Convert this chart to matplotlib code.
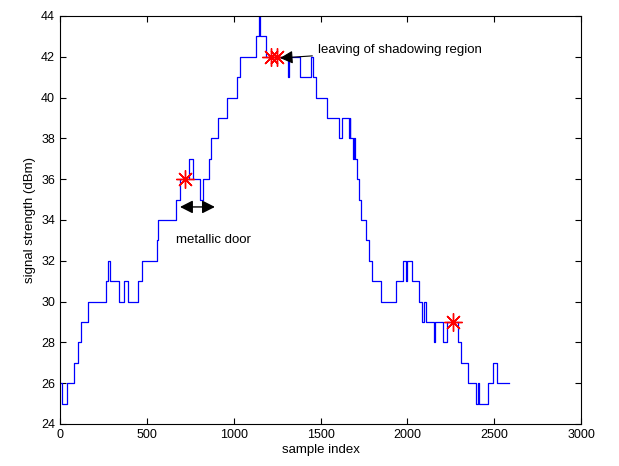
import numpy as np
import matplotlib
matplotlib.use('Agg')
import matplotlib.pyplot as plt

plt.rcParams['font.family'] = ['Liberation Sans', 'DejaVu Sans']

# step breakpoints (sample index) and signal level (dBm) that starts there
step_x = [0, 10, 38, 81, 106, 121, 163, 263, 274, 288, 342, 368, 393, 451, 474,
          556, 562, 668, 691, 743, 768, 806, 825, 860, 869, 908, 960, 1018, 1036,
          1128, 1144, 1150, 1186, 1312, 1318, 1382, 1447, 1458, 1474, 1539, 1607,
          1626, 1664, 1668, 1672, 1689, 1694, 1698, 1708, 1721, 1733, 1760, 1779,
          1795, 1846, 1934, 1976, 1992, 2000, 2025, 2070, 2084, 2098, 2107, 2153,
          2158, 2207, 2228, 2294, 2310, 2350, 2395, 2409, 2414, 2463, 2492, 2519,
          2586]
step_y = [26, 25, 26, 27, 28, 29, 30, 31, 32, 31, 30, 31, 30, 31, 32,
          33, 34, 35, 36, 37, 36, 35, 36, 37, 38, 39, 40, 41, 42,
          43, 44, 43, 42, 41, 42, 41, 42, 41, 40, 39, 38,
          39, 38, 39, 38, 37, 38, 37, 36, 35, 34, 33, 32,
          31, 30, 31, 32, 31, 32, 31, 30, 29, 30, 29, 28,
          29, 28, 29, 28, 27, 26, 25, 26, 25, 26, 27, 26,
          26]

# marked events
mark_x = [720, 1215, 1250, 2261]
mark_y = [36, 42, 42, 29]

fig = plt.figure(figsize=(6.19, 4.66), dpi=100)
ax = fig.add_axes([60/619, 1-424/466, 521/619, 408/466])

ax.plot(step_x, step_y, drawstyle='steps-post', color='#0000ff', lw=0.9)
ax.plot(mark_x, mark_y, linestyle='none', marker=(8, 2, 0), markersize=13,
        color='red', markeredgewidth=1.0)

ax.annotate('leaving of shadowing region', xy=(1267, 41.94), xytext=(1485, 42.33),
            fontsize=9.5, va='center', ha='left',
            arrowprops=dict(arrowstyle='-|>,head_length=0.55,head_width=0.28',
                            color='black', lw=0.8,
                            mutation_scale=14, shrinkA=2, shrinkB=0))
ax.annotate('', xy=(892, 34.64), xytext=(691, 34.64),
            arrowprops=dict(arrowstyle='<|-|>,head_length=0.55,head_width=0.28',
                            color='black', lw=1.0,
                            mutation_scale=14, shrinkA=0, shrinkB=0))
ax.text(668, 33.0, 'metallic door', fontsize=9.5, va='center', ha='left')

ax.set_xlim(0, 3000)
ax.set_ylim(24, 44)
ax.set_xticks(np.arange(0, 3001, 500))
ax.set_yticks(np.arange(24, 45, 2))
ax.tick_params(direction='in', top=True, right=True, labelsize=9, length=4)
ax.set_xlabel('sample index', fontsize=9.5, labelpad=2)
ax.set_ylabel('signal strength (dBm)', fontsize=9.5, labelpad=4)

fig.savefig('out.png', dpi=100)
